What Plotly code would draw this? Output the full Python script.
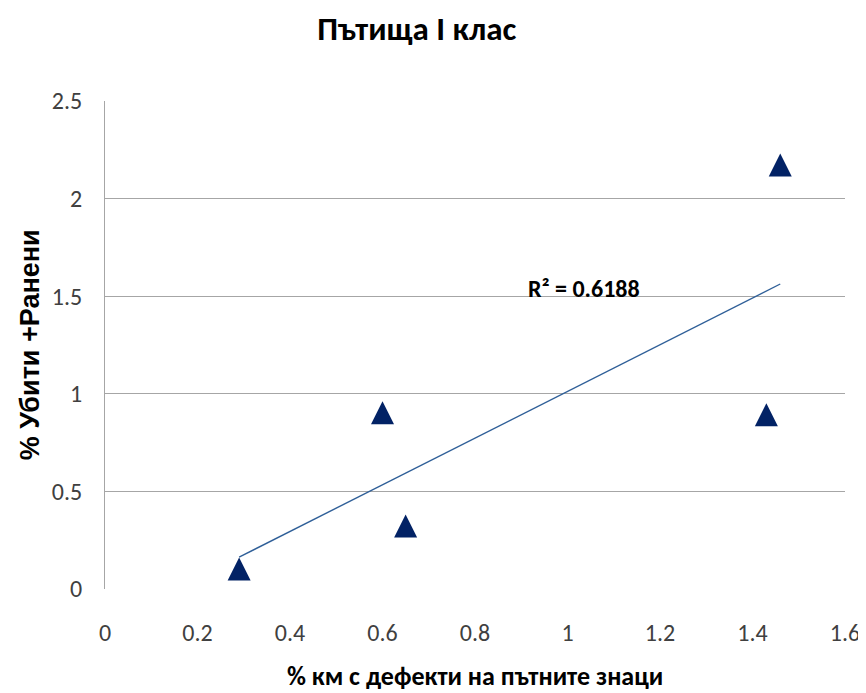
import numpy as np
import plotly.graph_objects as go

# Data
km_defects = [0.29, 0.60, 0.65, 1.43, 1.46]
killed_injured = [0.10, 0.90, 0.32, 0.89, 2.17]
r2_label = "R² = 0.6188"

title_text = "Пътища I клас"
x_title = "% км с дефекти на пътните знаци"
y_title = "% Убити +Ранени"

x_ticks = [0, 0.2, 0.4, 0.6, 0.8, 1, 1.2, 1.4, 1.6]
x_tick_text = ["0", "0.2", "0.4", "0.6", "0.8", "1", "1.2", "1.4", "1.6"]
y_ticks = [0, 0.5, 1, 1.5, 2, 2.5]
y_tick_text = ["0", "0.5", "1", "1.5", "2", "2.5"]

# Linear trendline (least squares)
slope, intercept = np.polyfit(km_defects, killed_injured, 1)
tx = [min(km_defects), max(km_defects)]
ty = [slope * v + intercept for v in tx]

FONT = 'Carlito, Lato, "Open Sans", sans-serif'
FONT_Y = '"Liberation Sans", Arial, sans-serif'

fig = go.Figure()
fig.add_trace(go.Scatter(
    x=tx, y=ty, mode="lines",
    line=dict(color="#2f5f98", width=1.4),
    hoverinfo="skip", showlegend=False,
))
fig.add_trace(go.Scatter(
    x=km_defects, y=killed_injured, mode="markers",
    marker=dict(symbol="arrow-down", angle=180, size=23, standoff=12,
                color="#022265", line=dict(width=0)),
    cliponaxis=False, showlegend=False,
))

fig.add_annotation(
    x=1.035, y=1.54, xref="x", yref="y", text="<b>" + r2_label + "</b>",
    showarrow=False, font=dict(family=FONT, size=24, color="#000000"),
)
# axis titles
fig.add_annotation(
    x=0.5, y=-0.178, xref="paper", yref="paper", xanchor="center", yanchor="middle",
    text="<b>" + x_title + "</b>", showarrow=False,
    font=dict(family=FONT, size=26, color="#000000"),
)
fig.add_annotation(
    x=-0.101, y=0.5, xref="paper", yref="paper", xanchor="center", yanchor="middle",
    text="<b>" + y_title + "</b>", showarrow=False, textangle=-90,
    font=dict(family=FONT_Y, size=27, color="#000000"),
)

fig.update_layout(
    width=866, height=693,
    margin=dict(l=97, r=29, t=93, b=112),
    paper_bgcolor="white", plot_bgcolor="white",
    title=dict(text="<b>" + title_text + "</b>", x=0.472, xanchor="center",
               y=0.970, yanchor="middle",
               font=dict(family=FONT, size=33, color="#000000")),
    font=dict(family=FONT),
)
fig.update_xaxes(
    range=[0, 1.6], tickvals=x_ticks, ticktext=x_tick_text,
    showgrid=False, zeroline=False, showline=False,
    ticks="", ticklabelstandoff=27,
    tickfont=dict(family=FONT, size=24, color="#404040"),
)
fig.update_yaxes(
    range=[0, 2.5], tickvals=y_ticks, ticktext=y_tick_text,
    showgrid=True, gridcolor="#a6a6a6", gridwidth=1,
    zeroline=False, showline=True, linecolor="#a6a6a6", linewidth=1,
    ticks="", ticklabelstandoff=17,
    tickfont=dict(family=FONT, size=24, color="#404040"),
)

fig.write_html("out.html")
